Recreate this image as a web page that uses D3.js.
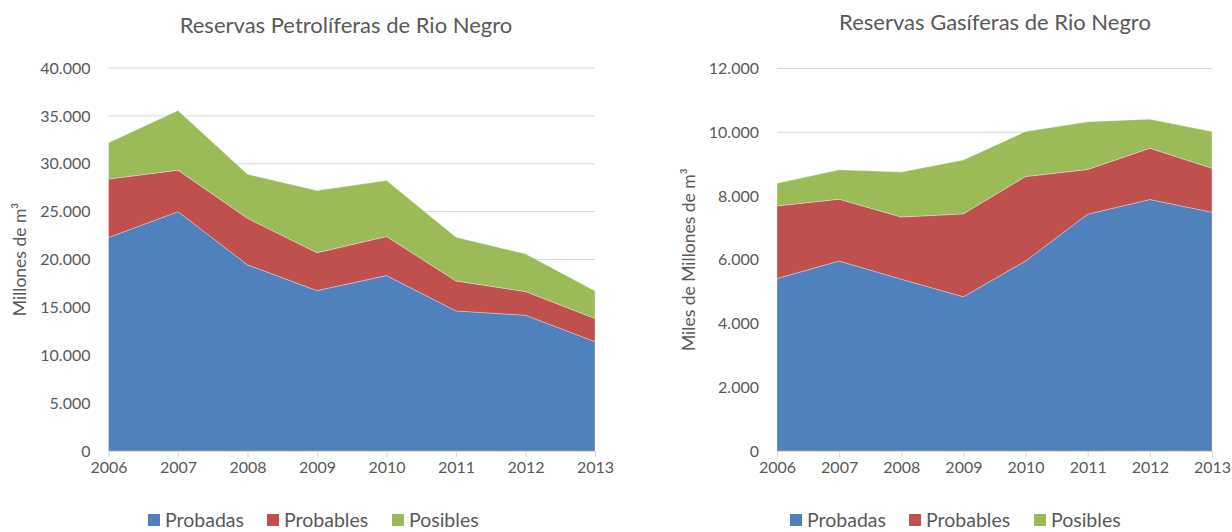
<!DOCTYPE html>
<html>
<head>
<meta charset="utf-8">
<script src="https://cdn.jsdelivr.net/npm/d3@7"></script>
<style>
  body { margin: 0; background: #fff; }
  svg { font-family: Lato, "Open Sans", sans-serif; }
</style>
</head>
<body>
<svg id="chart" width="1232" height="532"></svg>
<script>
var years = [2006, 2007, 2008, 2009, 2010, 2011, 2012, 2013];
var seriesNames = ["Probadas", "Probables", "Posibles"];
var colors = ["#4F81BD", "#C0504D", "#9BBB59"];

// Petróleo (millones de m3)
var oilProbadas  = [22300, 25000, 19440, 16750, 18320, 14630, 14180, 11420];
var oilProbables = [6100, 4330, 4860, 3950, 4080, 3130, 2470, 2410];
var oilPosibles  = [3800, 6230, 4600, 6500, 5850, 4570, 3940, 2890];
var oilTicks = [0, 5000, 10000, 15000, 20000, 25000, 30000, 35000, 40000];

// Gas (miles de millones de m3)
var gasProbadas  = [5410, 5960, 5390, 4840, 5960, 7430, 7890, 7490];
var gasProbables = [2280, 1940, 1950, 2600, 2650, 1400, 1610, 1380];
var gasPosibles  = [710, 920, 1410, 1690, 1410, 1500, 910, 1150];
var gasTicks = [0, 2000, 4000, 6000, 8000, 10000, 12000];

var svg = d3.select("#chart");
var fmt = d3.format(",.0f");
function label(v) { return fmt(v).replace(/,/g, "."); }

function drawChart(opts) {
  var rows = years.map(function (y, i) {
    return { year: y, Probadas: opts.a[i], Probables: opts.b[i], Posibles: opts.c[i] };
  });
  var stack = d3.stack().keys(seriesNames)(rows);

  var x = d3.scalePoint().domain(years).range([opts.left, opts.right]);
  var y = d3.scaleLinear().domain([0, opts.max]).range([opts.bottom, opts.top]);

  var g = svg.append("g");

  // gridlines
  g.append("g")
    .selectAll("line")
    .data(opts.ticks.filter(function (d) { return d > 0; }))
    .join("line")
    .attr("x1", opts.left)
    .attr("x2", opts.right)
    .attr("y1", (d) => y(d))
    .attr("y2", (d) => y(d))
    .attr("stroke", "#d9d9d9")
    .attr("stroke-width", 1);

  var area = d3.area()
    .x((d) => x(d.data.year))
    .y0((d) => y(d[0]))
    .y1((d) => y(d[1]));

  g.append("g")
    .selectAll("path")
    .data(stack)
    .join("path")
    .attr("fill", (d, i) => colors[i])
    .attr("stroke", "#fff")
    .attr("stroke-opacity", 0.5)
    .attr("stroke-width", 0.6)
    .attr("d", area);

  // y axis labels
  g.append("g")
    .call(d3.axisLeft(y).tickValues(opts.ticks).tickFormat(label).tickSize(0).tickPadding(0))
    .attr("transform", "translate(" + (opts.left - 18) + ",0)")
    .call((g) => g.select(".domain").remove())
    .selectAll("text")
    .attr("fill", "#595959")
    .attr("font-size", "16px")
    .attr("font-family", "Lato, sans-serif");

  // x axis
  g.append("g")
    .attr("transform", "translate(0," + opts.bottom + ")")
    .call(d3.axisBottom(x).tickSize(6).tickSizeOuter(0).tickPadding(5))
    .call((g) => g.select(".domain").attr("stroke", "#d9d9d9"))
    .call((g) => g.selectAll(".tick line").attr("stroke", "#d9d9d9"))
    .selectAll("text")
    .attr("fill", "#595959")
    .attr("font-size", "16px")
    .attr("font-family", "Lato, sans-serif");

  // title
  g.append("text")
    .attr("x", opts.titleX)
    .attr("y", opts.titleY)
    .attr("text-anchor", "middle")
    .attr("fill", "#595959")
    .attr("font-size", "22px")
    .text(opts.title);

  // y axis title
  g.append("text")
    .attr("transform", "translate(" + opts.yLabelX + "," + ((opts.top + opts.bottom) / 2) + ") rotate(-90)")
    .attr("text-anchor", "middle")
    .attr("fill", "#595959")
    .attr("font-size", "17.5px")
    .text(opts.yLabel);

  // legend
  var leg = g.append("g").attr("transform", "translate(" + opts.legendX + ",520)");
  var offsets = [0, 119, 244];
  seriesNames.forEach(function (name, i) {
    leg.append("rect")
      .attr("x", offsets[i])
      .attr("y", -6)
      .attr("width", 12)
      .attr("height", 12)
      .attr("fill", colors[i]);
    leg.append("text")
      .attr("x", offsets[i] + 17)
      .attr("y", 7)
      .attr("fill", "#595959")
      .attr("font-size", "19.5px")
      .text(name);
  });
}

drawChart({
  a: oilProbadas, b: oilProbables, c: oilPosibles,
  ticks: oilTicks, max: 40000,
  left: 108.5, right: 595, top: 68, bottom: 451,
  title: "Reservas Petrolíferas de Rio Negro", titleX: 346, titleY: 33,
  yLabel: "Millones de m³", yLabelX: 26,
  legendX: 148
});

drawChart({
  a: gasProbadas, b: gasProbables, c: gasPosibles,
  ticks: gasTicks, max: 12000,
  left: 777, right: 1212, top: 68.5, bottom: 451,
  title: "Reservas Gasíferas de Rio Negro", titleX: 995, titleY: 30,
  yLabel: "Miles de Millones de m³", yLabelX: 695,
  legendX: 790
});
</script>
</body>
</html>
